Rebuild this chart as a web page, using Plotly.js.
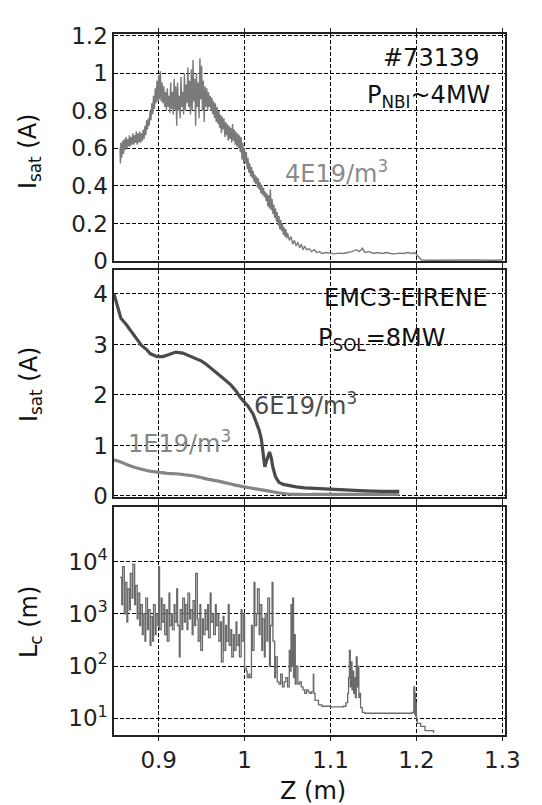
<!DOCTYPE html>
<html>
<head>
<meta charset="utf-8">
<script src="https://cdn.plot.ly/plotly-3.0.1.min.js"></script>
<style>html,body{margin:0;padding:0;background:#fff;}#chart{width:542px;height:805px;}</style>
</head>
<body>
<div id="chart"></div>
<script>
// ---- Top panel: measured Isat (#73139, 4E19/m^3) ----
const zExp = [0.855,0.8555,0.856,0.857,0.858,0.859,0.860,0.861,0.862,0.863,0.864,0.865,0.866,0.867,0.868,0.869,0.870,0.871,0.872,0.873,0.874,0.875,0.876,0.877,0.878,0.879,0.880,0.881,0.882,0.883,0.884,0.885,0.886,
0.887,0.888,0.889,0.890,0.891,0.892,0.893,0.894,0.895,0.896,0.897,0.898,0.899,0.900,0.901,0.902,0.903,0.904,0.905,
0.906,0.907,0.908,0.909,0.910,0.911,0.912,0.913,0.914,0.915,0.916,0.917,0.918,0.919,0.920,0.921,0.922,0.923,0.924,0.925,0.926,0.927,0.928,0.929,0.930,0.931,0.932,0.933,0.934,0.935,0.936,0.937,0.938,0.939,0.940,0.941,0.942,0.943,0.944,0.945,0.946,0.947,0.948,0.949,0.950,0.951,0.952,0.953,0.954,0.955,0.956,0.957,0.958,0.959,0.960,
0.961,0.962,0.963,0.964,0.965,0.966,0.967,0.968,0.969,0.970,0.971,0.972,0.973,0.974,0.975,0.976,0.977,0.978,0.979,0.980,0.981,0.982,0.983,0.984,0.985,0.986,0.987,0.988,0.989,0.990,0.991,0.992,0.993,0.994,0.995,0.996,0.997,0.998,0.999,1.000,
1.001,1.002,1.003,1.004,1.005,1.006,1.007,1.008,1.009,1.010,1.011,1.012,1.013,1.014,1.015,1.016,1.017,1.018,1.019,1.020,1.021,1.022,1.023,1.024,1.025,1.026,1.027,1.028,1.029,1.030,1.031,1.032,1.033,1.034,1.035,1.036,1.037,1.038,1.039,1.040,1.041,1.042,1.043,1.044,1.045,1.046,1.047,1.048,1.049,1.050,1.052,1.054,1.056,1.058,1.060,1.062,1.064,1.066,1.068,1.070,1.072,1.075,1.078,1.081,1.084,1.087,1.090,1.095,1.100,1.105,1.110,1.115,1.120,1.125,1.130,1.133,1.136,1.137,1.140,1.145,1.150,1.155,1.160,1.165,1.170,1.175,1.180,1.185,1.190,1.195,1.198,1.200,1.203,1.206,1.215,1.230,1.250,1.270,1.290,1.300];
const isatExp = [0.60,0.52,0.63,0.55,0.64,0.57,0.65,0.59,0.66,0.60,0.65,0.61,0.67,0.61,0.66,0.62,0.68,0.62,0.67,0.63,0.69,0.62,0.68,0.63,0.69,0.63,0.68,0.64,0.70,0.65,0.72,0.67,0.75,
0.70,0.76,0.72,0.80,0.75,0.84,0.78,0.88,0.81,0.92,0.84,0.96,0.85,0.99,0.86,1.01,0.85,0.95,0.84,
0.93,0.82,0.90,0.80,0.92,0.82,0.88,0.79,0.95,0.81,0.90,0.78,0.97,0.80,0.93,0.72,0.95,0.80,0.88,0.76,0.98,0.82,0.90,0.78,1.00,0.80,0.94,0.84,1.03,0.82,0.96,0.78,1.02,0.80,1.07,0.85,0.97,0.72,1.00,0.82,0.95,0.76,1.08,0.86,1.04,0.80,0.96,0.74,0.93,0.82,0.92,0.80,0.90,0.82,0.88,
0.80,0.87,0.78,0.85,0.76,0.84,0.74,0.82,0.73,0.80,0.71,0.78,0.68,0.77,0.70,0.76,0.66,0.74,0.67,0.73,0.64,0.72,0.65,0.71,0.63,0.73,0.64,0.70,0.62,0.69,0.61,0.68,0.60,0.67,0.58,0.66,0.54,0.63,0.52,0.60,
0.52,0.58,0.49,0.55,0.47,0.52,0.45,0.50,0.44,0.48,0.42,0.46,0.41,0.45,0.39,0.44,0.38,0.42,0.36,0.40,0.35,0.39,0.34,0.37,0.32,0.36,0.29,0.35,0.28,0.38,0.27,0.33,0.25,0.30,0.23,0.28,0.21,0.26,0.19,0.24,0.17,0.22,0.16,0.20,0.14,0.18,0.13,0.17,0.12,0.15,0.11,0.13,0.09,0.11,0.08,0.10,0.07,0.09,0.06,0.08,0.06,0.065,0.05,0.06,0.045,0.05,0.04,0.045,0.04,0.038,0.042,0.04,0.045,0.05,0.06,0.05,0.06,0.07,0.045,0.05,0.04,0.045,0.04,0.045,0.04,0.038,0.042,0.04,0.045,0.04,0.045,0.035,0.02,0.005,0.004,0.005,0.004,0.005,0.004,0.005];

// ---- Middle panel: EMC3-EIRENE Isat ----
const zN6 = [0.848,0.852,0.856,0.862,0.870,0.875,0.880,0.886,0.890,0.898,0.905,0.912,0.920,0.928,0.935,0.942,0.950,0.956,0.962,0.968,0.975,0.984,0.990,0.995,1.000,1.004,1.010,1.014,1.017,1.0196,1.022,1.0235,1.026,1.029,1.031,1.033,1.036,1.040,1.045,1.052,1.060,1.070,1.080,1.090,1.100,1.120,1.140,1.160,1.180];
const isatN6 = [4.00,3.75,3.52,3.40,3.22,3.10,2.98,2.90,2.82,2.76,2.76,2.80,2.85,2.83,2.78,2.73,2.67,2.60,2.52,2.43,2.33,2.20,2.08,1.95,1.86,1.78,1.62,1.45,1.30,1.12,0.85,0.58,0.72,0.87,0.76,0.56,0.38,0.27,0.23,0.20,0.18,0.16,0.15,0.14,0.13,0.11,0.10,0.09,0.09];
const zN1 = [0.848,0.855,0.862,0.870,0.880,0.890,0.900,0.909,0.920,0.930,0.940,0.948,0.958,0.968,0.978,0.988,1.000,1.010,1.020,1.030,1.040,1.050,1.064,1.080,1.100,1.130,1.160,1.180];
const isatN1 = [0.71,0.68,0.63,0.58,0.53,0.49,0.47,0.45,0.44,0.42,0.40,0.37,0.33,0.30,0.26,0.22,0.18,0.15,0.12,0.09,0.06,0.04,0.03,0.03,0.03,0.03,0.03,0.03];

// ---- Bottom panel: connection length Lc ----
const zLc = [0.855,0.857,0.858,0.860,0.861,0.863,0.864,0.866,0.867,0.869,0.870,0.872,0.873,0.875,0.876,0.878,0.879,0.881,0.882,0.884,0.885,0.887,0.888,0.890,0.891,0.893,0.894,0.896,0.897,0.899,0.900,0.901,0.903,0.904,0.906,0.907,0.909,0.910,0.912,0.913,0.915,0.916,0.918,0.919,0.921,0.922,0.924,0.925,0.927,0.928,0.930,0.931,0.933,0.934,0.936,0.937,0.939,0.940,0.942,0.943,0.945,0.946,0.948,0.949,0.951,0.952,0.954,0.955,0.957,0.958,0.960,0.961,0.963,0.964,0.966,0.967,0.969,0.970,0.972,0.973,0.975,0.976,0.978,0.979,0.981,0.982,0.984,0.985,0.987,0.988,0.990,0.991,0.993,0.994,0.996,0.997,0.999,1.000,1.002,1.003,1.005,1.006,1.008,1.009,1.011,1.012,1.014,1.015,1.017,1.018,1.020,1.021,1.023,1.024,1.026,1.027,1.029,1.030,1.032,1.033,1.035,1.036,1.038,1.040,1.042,1.044,1.046,1.048,1.050,1.052,1.053,1.054,1.055,1.056,1.057,1.058,1.059,1.060,1.062,1.064,1.066,1.068,1.070,1.072,1.074,1.076,1.078,1.080,1.0805,1.082,1.086,1.090,1.100,1.110,1.115,1.118,1.120,1.121,1.122,1.123,1.124,1.125,1.126,1.127,1.128,1.129,1.130,1.131,1.132,1.133,1.134,1.135,1.137,1.140,1.150,1.160,1.170,1.180,1.190,1.195,1.197,1.198,1.1985,1.199,1.1995,1.200,1.201,1.205,1.210,1.220,1.230];
const lc = [5000,1500,8000,1000,4000,700,3000,1200,6000,2000,9000,1500,3500,800,2500,600,1500,400,1000,300,2000,500,1200,250,900,300,1500,400,1000,600,8000,500,2000,700,1500,400,1200,300,2500,600,1000,500,1500,700,3000,600,150,1200,500,2000,700,1500,500,2500,800,1200,400,1800,600,6000,800,300,1500,200,800,400,1200,500,1500,350,2500,700,1000,400,1500,600,1000,300,700,120,900,200,600,300,1500,250,500,150,400,200,700,250,400,150,1200,300,1000,90,80,60,70,60,600,200,4000,600,1000,3000,400,1500,200,800,150,1000,300,2000,100,600,4000,300,60,150,50,45,70,40,50,60,40,200,80,1500,100,2000,60,400,45,100,45,50,40,35,30,35,32,30,32,70,30,22,18,17,16.5,16.5,17,20,30,60,200,40,120,35,80,30,60,25,150,40,100,25,30,16,13,12.5,12.5,12.5,12.5,12.5,12.5,13,40,12,30,11,20,10,8,7,5.8,5.2];

// ---- Axis ticks ----
const zTicks = [0.9,1.0,1.1,1.2,1.3];
const zTickText = ['0.9','1','1.1','1.2','1.3'];
const topTicks = [0,0.2,0.4,0.6,0.8,1,1.2];
const topTickText = ['0','0.2','0.4','0.6','0.8','1','1.2'];
const midTicks = [0,1,2,3,4];
const lcTicks = [10,100,1000,10000];
const lcTickText = ['10<sup>1</sup>','10<sup>2</sup>','10<sup>3</sup>','10<sup>4</sup>'];

const W = 542, H = 805;
const FONT = 'DejaVu Sans, Verdana, sans-serif';
const TICKSIZE = 23;
const xdom = [114/W, 505/W];
const py = p => 1 - p / H;

const traces = [
  {x: zExp, y: isatExp, xaxis:'x', yaxis:'y', mode:'lines', line:{color:'#7a7a7a', width:1.4}, hoverinfo:'skip'},
  {x: zN1, y: isatN1, xaxis:'x2', yaxis:'y2', mode:'lines', line:{color:'#858585', width:3.2, shape:'spline'}, hoverinfo:'skip'},
  {x: zN6, y: isatN6, xaxis:'x2', yaxis:'y2', mode:'lines', line:{color:'#4a4a4a', width:3.2}, hoverinfo:'skip'},
  {x: zLc, y: lc, xaxis:'x3', yaxis:'y3', mode:'lines', line:{color:'#6a6a6a', width:1.3, shape:'hv'}, hoverinfo:'skip'}
];

const gridStyle = {showgrid:true, gridcolor:'#000', gridwidth:1, griddash:'4px,2px', zeroline:false,
  showline:true, linecolor:'#222', linewidth:1.6, mirror:'allticks'};
const tf = {family:FONT, size:TICKSIZE, color:'#222'};
const xBase = Object.assign({}, gridStyle, {domain: xdom, range:[0.848,1.3031], tickmode:'array', tickvals: zTicks,
  ticktext: zTickText, ticks:'outside', ticklen:4, tickcolor:'#222', tickfont:tf});

function ann(text, px, pyv, size, color, angle) {
  return {text:text, xref:'paper', yref:'paper', x:px/W, y:py(pyv), xanchor:'center', yanchor:'middle',
    showarrow:false, textangle: angle || 0, font:{family:FONT, size:size, color:color}};
}

const layout = {
  width: W, height: H,
  margin: {l:0, r:0, t:0, b:0},
  paper_bgcolor:'#fff', plot_bgcolor:'#fff',
  showlegend:false,
  font:{family:FONT, color:'#222'},
  xaxis: Object.assign({}, xBase, {anchor:'y', showticklabels:false}),
  xaxis2: Object.assign({}, xBase, {anchor:'y2', showticklabels:false}),
  xaxis3: Object.assign({}, xBase, {anchor:'y3', showticklabels:true}),
  yaxis: Object.assign({}, gridStyle, {domain:[py(261), py(34)], range:[0,1.209], tickmode:'array', tickvals:topTicks, ticktext:topTickText, ticks:'', tickfont:tf, anchor:'x'}),
  yaxis2: Object.assign({}, gridStyle, {domain:[py(497), py(270)], range:[-0.02,4.475], tickmode:'array', tickvals:midTicks, ticks:'', tickfont:tf, anchor:'x2'}),
  yaxis3: Object.assign({}, gridStyle, {domain:[py(735), py(507)], type:'log', range:[0.68,5.048], tickmode:'array', tickvals:lcTicks, ticktext:lcTickText, ticks:'', tickfont:tf, anchor:'x3'}),
  annotations: [
    ann('#73139', 431, 58, 24, '#111'),
    ann('P<sub>NBI</sub>~4MW', 428, 97, 24, '#111'),
    ann('4E19/m<sup>3</sup>', 336, 172, 24, '#8a8a8a'),
    ann('EMC3-EIRENE', 406, 298, 24, '#111'),
    ann('P<sub>SOL</sub>=8MW', 382, 339, 24, '#111'),
    ann('6E19/m<sup>3</sup>', 305, 404, 24, '#4a4a4a'),
    ann('1E19/m<sup>3</sup>', 179, 442, 24, '#858585'),
    ann('I<sub>sat</sub> (A)', 30, 152, 24, '#111', -90),
    ann('I<sub>sat</sub> (A)', 30, 385, 24, '#111', -90),
    ann('L<sub>c</sub> (m)', 30, 622, 24, '#111', -90),
    ann('Z (m)', 313, 791, 24, '#111')
  ]
};

Plotly.newPlot('chart', traces, layout, {staticPlot:true, displayModeBar:false});
</script>
</body>
</html>
